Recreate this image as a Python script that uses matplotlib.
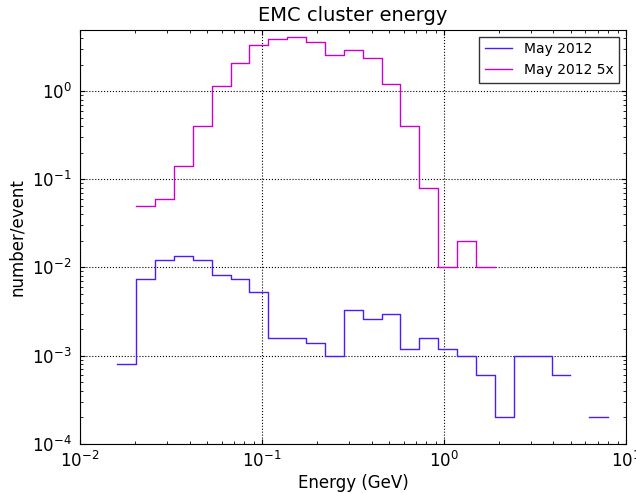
import numpy as np
import matplotlib
matplotlib.use("Agg")
import matplotlib.pyplot as plt

edges = 0.016 * 1.27 ** np.arange(27)
blue = [8e-4, 0.0073, 0.0123, 0.0134, 0.0123, 0.0083, 0.0073, 0.0052, 0.0016, 0.0016,
        0.0014, 0.001, 0.0033, 0.0026, 0.003, 0.0012, 0.0016, 0.0012, 0.001, 0.0006,
        0.0002, 0.001, 0.001, 0.0006, np.nan, 0.0002]
mag = [np.nan, 0.05, 0.06, 0.14, 0.4, 1.15, 2.1, 3.3, 3.9, 4.1, 3.6, 2.6, 2.9, 2.4,
       1.2, 0.4, 0.08, 0.01, 0.02, 0.01]

fig = plt.figure(figsize=(6.36, 4.93), dpi=100)
ax = fig.add_axes([0.126, 0.1, 0.858, 0.84])
b = np.array(blue + [blue[-1]])
ax.step(edges[:len(b)], b, where='post', color='#4a1bff', lw=1, label='May 2012')
m = np.array(mag + [mag[-1]])
ax.step(edges[:len(m)], m, where='post', color='#cc00cc', lw=1, label='May 2012 5x')
ax.set_xscale('log'); ax.set_yscale('log')
ax.set_xlim(0.01, 10); ax.set_ylim(1e-4, 5)
ax.grid(True, which='major', color='black', linestyle=':', lw=0.8)
ax.tick_params(which='both', direction='in', top=True, right=True, labelsize=12)
ax.tick_params(axis='x', pad=5)
ax.tick_params(axis='y', pad=6)
ax.set_xlabel('Energy (GeV)', fontsize=12, labelpad=2)
ax.set_ylabel('number/event', fontsize=12)
ax.set_title('EMC cluster energy', fontsize=14)
ax.legend(loc='upper right', fontsize=10, fancybox=False, edgecolor='black')
fig.savefig('out.png')
